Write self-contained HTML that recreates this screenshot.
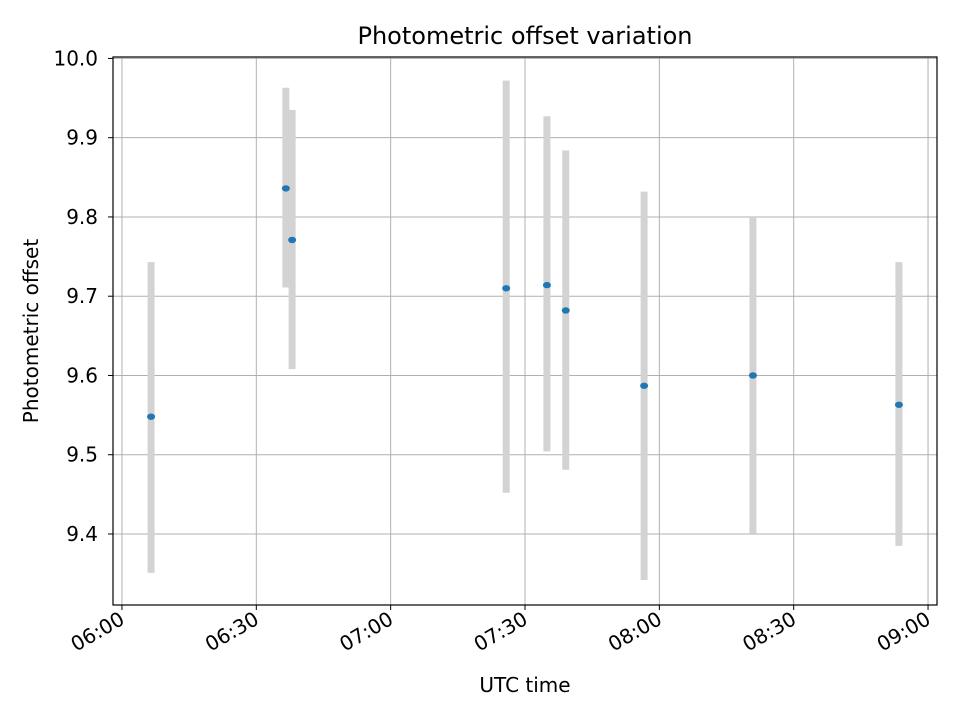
<!DOCTYPE html>
<html><head><meta charset="utf-8"><style>
body{margin:0;background:#fff;font-family:"Liberation Sans","DejaVu Sans",sans-serif}
</style></head><body>
<svg id="chart" width="960" height="720" xmlns="http://www.w3.org/2000/svg" font-family="DejaVu Sans, Liberation Sans, sans-serif">
<rect width="960" height="720" fill="#fff"/>
<text x="525" y="44" text-anchor="middle" font-size="24">Photometric offset variation</text>
<text x="525" y="692" text-anchor="middle" font-size="20">UTC time</text>
<text transform="translate(38,331) rotate(-90)" text-anchor="middle" font-size="20">Photometric offset</text>
<g id="grid"></g><g id="marks"></g><g id="axes"></g>
</svg>
<script>
const minutes=[6.5,36.6,38,85.8,94.9,99.1,116.6,140.9,173.5];
const offsets=[9.548,9.836,9.771,9.710,9.714,9.682,9.587,9.600,9.563];
const errLow=[9.351,9.711,9.608,9.452,9.504,9.481,9.342,9.401,9.385];
const errHigh=[9.743,9.963,9.935,9.972,9.927,9.884,9.832,9.800,9.743];
const xTicks=[0,30,60,90,120,150,180];
const xTickLabels=["06:00","06:30","07:00","07:30","08:00","08:30","09:00"];
const yTicks=[9.4,9.5,9.6,9.7,9.8,9.9,10.0];
const L=113,R=937,T=57,B=605;
const xMin=-2,xMax=182,yMin=9.3104,yMax=10.0018;
const X=m=>L+(m-xMin)/(xMax-xMin)*(R-L);
const Y=v=>B-(v-yMin)/(yMax-yMin)*(B-T);
const NS="http://www.w3.org/2000/svg";
function mk(t,a,p){const e=document.createElementNS(NS,t);for(const k in a)e.setAttribute(k,a[k]);document.getElementById(p).appendChild(e);return e;}
xTicks.forEach((m,i)=>{const x=X(m);
 const g=mk('line',{x1:x,x2:x,y1:T,y2:B,stroke:'#b0b0b0','stroke-width':1},'grid');
 
 
 const tk=mk('line',{x1:x,x2:x,y1:B,y2:B+5,stroke:'#000'},'axes');
 
 
 const t=mk('text',{x:x+4,y:B+18,'text-anchor':'end','font-size':20,transform:`rotate(-30 ${x+4} ${B+18})`},'axes');
 t.textContent=xTickLabels[i];
 
 
});
yTicks.forEach(v=>{const y=Y(v);
 const g=mk('line',{x1:L,x2:R,y1:y,y2:y,stroke:'#b0b0b0','stroke-width':1},'grid');
 
 
 const tk=mk('line',{x1:L-5,x2:L,y1:y,y2:y,stroke:'#000'},'axes');
 
 
 const t=mk('text',{x:L-15,y:y+7,'text-anchor':'end','font-size':20},'axes');
 t.textContent=v.toFixed(1);
 
 
});
const fr=mk('rect',{x:L,y:T,width:R-L,height:B-T,fill:'none',stroke:'#000','stroke-width':1.2},'axes');


minutes.forEach((m,i)=>{const x=X(m);
 const e=mk('line',{x1:x,x2:x,y1:Y(errLow[i]),y2:Y(errHigh[i]),stroke:'#d3d3d3','stroke-width':7},'marks');
 
 
});
minutes.forEach((m,i)=>{
 const c=mk('ellipse',{cx:X(m),cy:Y(offsets[i]),rx:4,ry:3.2,fill:'#1f77b4'},'marks');
 
 
});
</script>
</body></html>
